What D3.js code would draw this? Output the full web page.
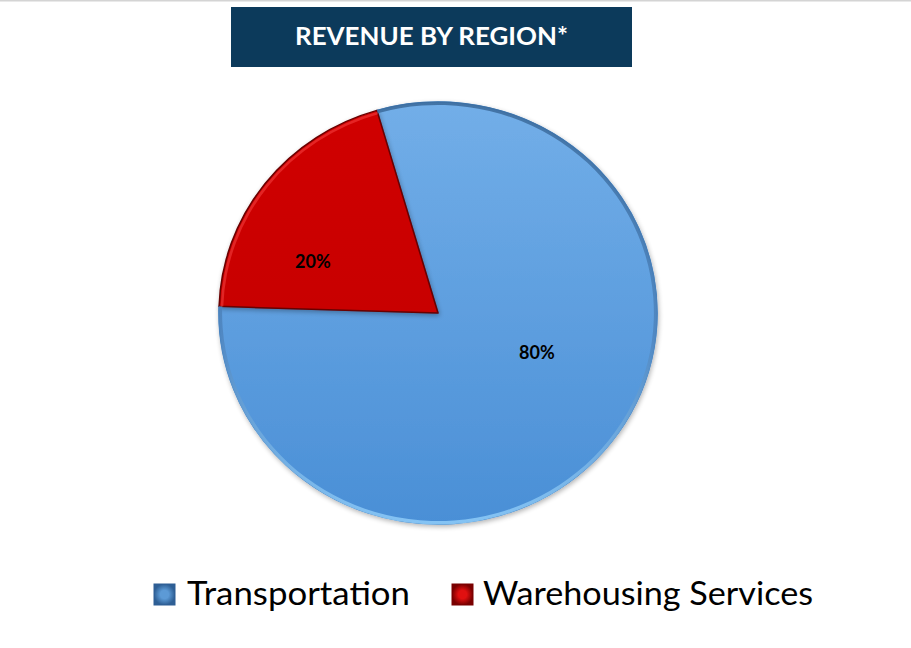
<!DOCTYPE html>
<html><head><meta charset="utf-8">
<script src="https://cdn.jsdelivr.net/npm/d3@7"></script>
<style>html,body{margin:0;padding:0;background:#fff;}svg{display:block;}</style>
</head><body>
<svg id="chart" width="911" height="648"></svg>
<script>
const title = "REVENUE BY REGION*";
const categories = ["Transportation", "Warehousing Services"];
const values = [80, 20];
const labels = ["80%", "20%"];

const W = 911, H = 648;
const svg = d3.select("#chart");
const defs = svg.append("defs");

// top border line
svg.append("rect").attr("x",0).attr("y",0).attr("width",W).attr("height",1.5).attr("fill","#d4d4d4");

// Title box
svg.append("rect").attr("x",231).attr("y",7).attr("width",401).attr("height",60).attr("fill","#0c3a5b");
svg.append("text").attr("x",431.5).attr("y",45).attr("text-anchor","middle")
  .attr("font-family","Lato, 'Open Sans', sans-serif").attr("font-weight","bold").attr("font-size",25.5)
  .attr("fill","#ffffff").attr("textLength",273).attr("lengthAdjust","spacingAndGlyphs").text(title);

// Gradients
const gBlue = defs.append("linearGradient").attr("id","gBlue").attr("x1",0).attr("y1",0).attr("x2",0).attr("y2",1);
gBlue.append("stop").attr("offset","0%").attr("stop-color","#72aee8");
gBlue.append("stop").attr("offset","100%").attr("stop-color","#4a8fd6");
const gRed = defs.append("linearGradient").attr("id","gRed").attr("x1",0).attr("y1",0).attr("x2",0).attr("y2",1);
gRed.append("stop").attr("offset","0%").attr("stop-color","#d00000");
gRed.append("stop").attr("offset","100%").attr("stop-color","#c80000");
const gEdge = defs.append("linearGradient").attr("id","gEdge").attr("x1",0).attr("y1",0).attr("x2",0).attr("y2",1);
gEdge.append("stop").attr("offset","0%").attr("stop-color","#3d6d9e");
gEdge.append("stop").attr("offset","55%").attr("stop-color","#4f86c0");
gEdge.append("stop").attr("offset","100%").attr("stop-color","#8ccaf8");

const shadow = defs.append("filter").attr("id","shadow").attr("x","-10%").attr("y","-10%").attr("width","120%").attr("height","120%");
shadow.append("feGaussianBlur").attr("in","SourceAlpha").attr("stdDeviation",2.5).attr("result","b");
shadow.append("feOffset").attr("in","b").attr("dx",1).attr("dy",2).attr("result","o");
shadow.append("feComponentTransfer").attr("in","o").attr("result","o2")
  .append("feFuncA").attr("type","linear").attr("slope",0.3);
const m = shadow.append("feMerge");
m.append("feMergeNode").attr("in","o2");
m.append("feMergeNode").attr("in","SourceGraphic");

// Pie
const cx = 438, cy = 313, R = 211, sx = 219/211;
const start = -16.2 * Math.PI/180;
const pie = d3.pie().sort(null).value(d => d).startAngle(start).endAngle(start + 2*Math.PI);
const arcs = pie(values);
const arc = d3.arc().innerRadius(0).outerRadius(R);
const fills = ["url(#gBlue)","url(#gRed)"];
const strokes = ["#3f7fc0","#6a0000"];

const pg = svg.append("g").attr("transform",`translate(${cx},${cy}) scale(${sx},1)`);
pg.selectAll("path.slice").data(arcs).join("path").attr("class","slice")
  .attr("d",arc).attr("fill",(d,i)=>fills[i]).attr("stroke",(d,i)=>strokes[i]).attr("stroke-width",1.5)
  .attr("stroke-linejoin","round").attr("filter","url(#shadow)");
// outer edge bevel for blue slice
const edgeArc = d3.arc().innerRadius(R-3).outerRadius(R+0.5);
pg.append("path").datum(arcs[0]).attr("d",edgeArc).attr("fill","url(#gEdge)").attr("opacity",0.9);
// red slice: highlight rim
const redRim = d3.arc().innerRadius(R-4).outerRadius(R-1.5);
pg.append("path").datum(arcs[1]).attr("d",redRim).attr("fill","#ff5050").attr("opacity",0.45);

// labels
const labelPos = [{ang:-15, r:0.49},{ang:-15, r:0.62}];
svg.selectAll("text.lbl").data(arcs).join("text").attr("class","lbl")
  .each(function(d,i){
    const a = (d.startAngle + d.endAngle)/2 + labelPos[i].ang*Math.PI/180;
    const rr = R*labelPos[i].r;
    d3.select(this).attr("x", cx + Math.sin(a)*rr*sx).attr("y", cy - Math.cos(a)*rr + 6);
  })
  .attr("text-anchor","middle").attr("font-family","Lato, sans-serif").attr("font-weight","bold")
  .attr("font-size",18).attr("fill","#000").text((d,i)=>labels[i]);

// Legend
const legColors = [["#5c9ad6","#2e5f95"],["#e01010","#7a0000"]];
legColors.forEach((c,i)=>{
  const g = defs.append("radialGradient").attr("id","lg"+i);
  g.append("stop").attr("offset","40%").attr("stop-color",c[0]);
  g.append("stop").attr("offset","100%").attr("stop-color",c[1]);
});
const legX = [154, 452], legTextX = [187, 483], legW = [223, 330];
const leg = svg.selectAll("g.leg").data(categories).join("g").attr("class","leg");
leg.append("rect").attr("x",(d,i)=>legX[i]).attr("y",584).attr("width",21).attr("height",21)
  .attr("fill",(d,i)=>`url(#lg${i})`).attr("stroke",(d,i)=>legColors[i][1]).attr("stroke-width",1);
leg.append("text").attr("x",(d,i)=>legTextX[i]).attr("y",605)
  .attr("font-family","Lato, 'Open Sans', sans-serif").attr("font-size",33).attr("fill","#000")
  .attr("textLength",(d,i)=>legW[i]).attr("lengthAdjust","spacingAndGlyphs").text(d=>d);
</script>
</body></html>
